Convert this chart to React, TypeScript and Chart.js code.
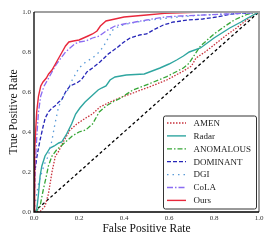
import React, { useEffect, useRef } from "react";
import { Chart, registerables } from "chart.js";

Chart.register(...registerables);

// ---- data (FPR / TPR pairs) ----
const oursX = [0, 0.003, 0.008, 0.012, 0.02, 0.03, 0.04, 0.055, 0.065, 0.08, 0.095, 0.11, 0.125, 0.14, 0.155, 0.175, 0.2, 0.22, 0.24, 0.26, 0.28, 0.295, 0.32, 0.36, 0.4, 0.45, 0.5, 0.58, 0.65, 0.72, 0.8, 0.9, 1];
const oursY = [0, 0.3, 0.42, 0.5, 0.58, 0.63, 0.65, 0.67, 0.69, 0.71, 0.74, 0.77, 0.8, 0.83, 0.85, 0.855, 0.86, 0.87, 0.88, 0.89, 0.905, 0.93, 0.955, 0.965, 0.975, 0.98, 0.985, 0.993, 0.996, 0.998, 1, 1, 1];

const colaX = [0, 0.004, 0.01, 0.015, 0.02, 0.03, 0.045, 0.06, 0.08, 0.1, 0.12, 0.14, 0.16, 0.18, 0.2, 0.23, 0.26, 0.29, 0.32, 0.36, 0.4, 0.45, 0.5, 0.58, 0.65, 0.75, 0.85, 0.95, 1];
const colaY = [0, 0.2, 0.33, 0.42, 0.5, 0.58, 0.63, 0.66, 0.7, 0.74, 0.77, 0.8, 0.82, 0.84, 0.85, 0.855, 0.87, 0.88, 0.905, 0.93, 0.94, 0.95, 0.96, 0.975, 0.98, 0.985, 0.99, 0.995, 1];

const dgiX = [0, 0.01, 0.02, 0.035, 0.05, 0.064, 0.08, 0.093, 0.108, 0.125, 0.15, 0.17, 0.2, 0.23, 0.26, 0.29, 0.31, 0.33, 0.35, 0.38, 0.41, 0.46, 0.52, 0.6, 0.66, 0.75, 0.88, 1];
const dgiY = [0, 0.08, 0.14, 0.2, 0.25, 0.28, 0.36, 0.44, 0.52, 0.57, 0.61, 0.66, 0.72, 0.75, 0.77, 0.8, 0.83, 0.87, 0.91, 0.93, 0.94, 0.95, 0.96, 0.97, 0.977, 0.985, 0.99, 1];

const dominantX = [0, 0.004, 0.012, 0.02, 0.027, 0.035, 0.041, 0.05, 0.064, 0.08, 0.093, 0.11, 0.123, 0.14, 0.16, 0.19, 0.21, 0.235, 0.26, 0.293, 0.33, 0.367, 0.4, 0.427, 0.47, 0.5, 0.53, 0.575, 0.62, 0.685, 0.75, 0.81, 0.88, 0.95, 1];
const dominantY = [0, 0.2, 0.27, 0.32, 0.36, 0.4, 0.43, 0.47, 0.5, 0.52, 0.53, 0.55, 0.56, 0.6, 0.63, 0.645, 0.66, 0.7, 0.72, 0.75, 0.79, 0.82, 0.85, 0.87, 0.885, 0.89, 0.91, 0.935, 0.95, 0.96, 0.965, 0.975, 0.99, 0.995, 1];

const radarX = [0, 0.012, 0.019, 0.027, 0.035, 0.049, 0.06, 0.071, 0.09, 0.11, 0.123, 0.145, 0.167, 0.185, 0.204, 0.227, 0.256, 0.285, 0.3, 0.32, 0.338, 0.36, 0.41, 0.49, 0.56, 0.6, 0.634, 0.664, 0.69, 0.74, 0.8, 0.87, 0.92, 0.95, 1];
const radarY = [0, 0.01, 0.08, 0.18, 0.23, 0.28, 0.3, 0.32, 0.33, 0.345, 0.35, 0.39, 0.44, 0.49, 0.52, 0.55, 0.58, 0.61, 0.62, 0.63, 0.66, 0.675, 0.685, 0.69, 0.72, 0.74, 0.76, 0.78, 0.8, 0.82, 0.87, 0.92, 0.95, 0.97, 1];

const anomalousX = [0, 0.015, 0.027, 0.041, 0.055, 0.064, 0.08, 0.1, 0.13, 0.17, 0.2, 0.23, 0.26, 0.29, 0.32, 0.35, 0.382, 0.44, 0.516, 0.59, 0.664, 0.69, 0.71, 0.74, 0.8, 0.85, 0.89, 0.94, 0.97, 1];
const anomalousY = [0, 0.01, 0.03, 0.11, 0.18, 0.23, 0.28, 0.31, 0.34, 0.38, 0.4, 0.41, 0.44, 0.5, 0.53, 0.55, 0.568, 0.61, 0.643, 0.677, 0.72, 0.745, 0.78, 0.83, 0.89, 0.93, 0.96, 0.985, 0.995, 1];

const amenX = [0, 0.03, 0.049, 0.064, 0.08, 0.095, 0.108, 0.13, 0.16, 0.19, 0.23, 0.26, 0.293, 0.338, 0.38, 0.44, 0.516, 0.59, 0.664, 0.7, 0.72, 0.76, 0.8, 0.85, 0.9, 0.945, 0.975, 1];
const amenY = [0, 0.005, 0.03, 0.09, 0.2, 0.28, 0.3, 0.35, 0.41, 0.44, 0.47, 0.49, 0.525, 0.55, 0.57, 0.595, 0.627, 0.66, 0.705, 0.73, 0.77, 0.8, 0.835, 0.88, 0.92, 0.96, 0.985, 1];

const diagX = [0, 1];
const diagY = [0, 1];

const xTicks = [0, 0.2, 0.4, 0.6, 0.8, 1.0];
const yTicks = [0, 0.2, 0.4, 0.6, 0.8, 1.0];

const legendOrder = ["AMEN", "Radar", "ANOMALOUS", "DOMINANT", "DGI", "CoLA", "Ours"];

const pts = (xs: number[], ys: number[]) => xs.map((x, i) => ({ x, y: ys[i] }));

const SERIF = "'Liberation Serif', 'DejaVu Serif', serif";

export default function App() {
  const ref = useRef<HTMLCanvasElement | null>(null);

  useEffect(() => {
    document.body.style.margin = "0";
    const canvas = ref.current;
    if (!canvas) return;

    const mk = (label: string, xs: number[], ys: number[], color: string, dash: number[], width = 1.3) => ({
      label,
      data: pts(xs, ys),
      borderColor: color,
      backgroundColor: color,
      borderDash: dash,
      borderWidth: width,
      pointRadius: 0,
      showLine: true,
      fill: false,
      tension: 0,
    });

    const datasets = [
      mk("Ours", oursX, oursY, "#e8283c", [], 1.4),
      mk("CoLA", colaX, colaY, "#8a6cf2", [6, 2, 1.5, 2]),
      mk("DGI", dgiX, dgiY, "#5b9bd8", [1.5, 4]),
      mk("DOMINANT", dominantX, dominantY, "#2626b8", [4, 2]),
      mk("Radar", radarX, radarY, "#2fa6a0", [], 1.4),
      mk("ANOMALOUS", anomalousX, anomalousY, "#36a636", [5, 2, 1.5, 2]),
      mk("AMEN", amenX, amenY, "#c8323c", [1.5, 1.5]),
      mk("diag", diagX, diagY, "#000000", [3, 2.5], 1.3),
    ];

    const framePlugin = {
      id: "frame",
      afterDraw(chart: any) {
        const { ctx, chartArea: a } = chart;
        ctx.save();
        ctx.strokeStyle = "#a0a0a0";
        ctx.lineWidth = 2;
        ctx.setLineDash([]);
        ctx.beginPath();
        ctx.moveTo(a.left, a.top);
        ctx.lineTo(a.right, a.top);
        ctx.lineTo(a.right, a.bottom);
        ctx.stroke();
        ctx.strokeStyle = "#000";
        ctx.lineWidth = 1.3;
        ctx.beginPath();
        ctx.moveTo(a.left, a.top);
        ctx.lineTo(a.left, a.bottom);
        ctx.lineTo(a.right, a.bottom);
        ctx.stroke();
        ctx.restore();
      },
    };

    const legendPlugin = {
      id: "boxLegend",
      afterDraw(chart: any) {
        const { ctx, chartArea: a } = chart;
        const x0 = a.left + 129;
        const y0 = a.top + 103.5;
        const w = 93;
        const h = 93;
        ctx.save();
        ctx.setLineDash([]);
        ctx.fillStyle = "#fff";
        ctx.strokeStyle = "#333";
        ctx.lineWidth = 1;
        ctx.beginPath();
        (ctx as any).roundRect ? ctx.roundRect(x0 + 0.5, y0 + 0.5, w, h, 2) : ctx.rect(x0 + 0.5, y0 + 0.5, w, h);
        ctx.fill();
        ctx.stroke();
        ctx.font = `9px ${SERIF}`;
        ctx.textBaseline = "middle";
        ctx.textAlign = "left";
        legendOrder.forEach((name, i) => {
          const ds = chart.data.datasets.find((d: any) => d.label === name);
          const y = y0 + 7.5 + i * 12.9;
          ctx.strokeStyle = ds.borderColor;
          ctx.lineWidth = ds.borderWidth;
          ctx.setLineDash(ds.borderDash);
          ctx.beginPath();
          ctx.moveTo(x0 + 4, y);
          ctx.lineTo(x0 + 23, y);
          ctx.stroke();
          ctx.setLineDash([]);
          ctx.fillStyle = "#222";
          ctx.fillText(name, x0 + 30.5, y + 0.5);
        });
        ctx.restore();
      },
    };

    const chart = new Chart(canvas, {
      type: "scatter",
      data: { datasets: datasets as any },
      options: {
        animation: false,
        responsive: false,
        maintainAspectRatio: false,
        layout: { padding: { top: 12, right: 14, left: 0, bottom: 0 } },
        plugins: { legend: { display: false }, tooltip: { enabled: false } },
        scales: {
          x: {
            type: "linear",
            min: 0,
            max: 1,
            afterFit: (s: any) => { s.height = 33; },
            afterBuildTicks: (s: any) => { s.ticks = xTicks.map((v) => ({ value: v })); },
            grid: { display: false, drawTicks: false },
            border: { display: false },
            ticks: {
              padding: 2,
              color: "#333",
              font: { family: SERIF, size: 7 },
              callback: (v: any) => Number(v).toFixed(1),
              maxRotation: 0,
            },
            title: {
              display: true,
              text: "False Positive Rate",
              color: "#111",
              font: { family: SERIF, size: 11.5 },
              padding: { top: 0, bottom: 8.8 },
            },
          },
          y: {
            type: "linear",
            min: 0,
            max: 1,
            afterFit: (s: any) => { s.width = 34; },
            afterBuildTicks: (s: any) => { s.ticks = yTicks.map((v) => ({ value: v })); },
            grid: { display: false, drawTicks: false },
            border: { display: false },
            ticks: {
              padding: 3,
              color: "#333",
              font: { family: SERIF, size: 7 },
              callback: (v: any) => Number(v).toFixed(1),
            },
            title: {
              display: true,
              text: "True Positive Rate",
              color: "#111",
              font: { family: SERIF, size: 11.5 },
              padding: { top: 6.6, bottom: 0 },
            },
          },
        },
      },
      plugins: [framePlugin, legendPlugin],
    });

    return () => chart.destroy();
  }, []);

  return <canvas ref={ref} width={273} height={245} style={{ display: "block", width: 273, height: 245 }} />;
}
